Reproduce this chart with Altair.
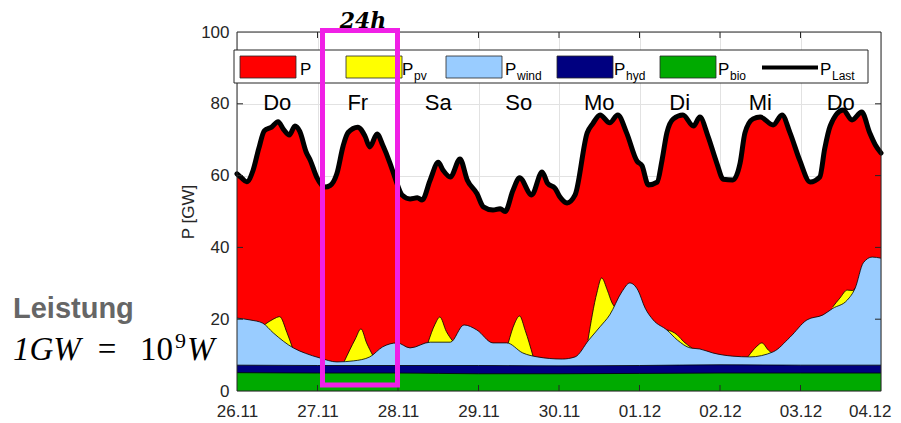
import json
import altair as alt
import pandas as pd

# ---------------- data ----------------
date_labels = ["26.11", "27.11", "28.11", "29.11", "30.11", "01.12", "02.12", "03.12", "04.12"]
weekdays = ["Do", "Fr", "Sa", "So", "Mo", "Di", "Mi", "Do"]
y_ticks = [0, 20, 40, 60, 80, 100]

# total load P_Last (GW), time in days since 26.11 00:00
last_t = [0.00, 0.06, 0.12, 0.20, 0.27, 0.34, 0.43, 0.51, 0.58, 0.65, 0.72, 0.78, 0.86, 0.91, 0.99,
          1.09, 1.16, 1.24, 1.32, 1.38, 1.50, 1.59, 1.65, 1.74, 1.81, 1.90, 1.96,
          2.05, 2.15, 2.24, 2.30, 2.40, 2.50, 2.56, 2.65, 2.77, 2.86, 2.98,
          3.06, 3.18, 3.27, 3.33, 3.43, 3.51, 3.66, 3.79, 3.86, 3.95,
          4.01, 4.10, 4.20, 4.35, 4.42, 4.51, 4.63, 4.73, 4.84, 4.97,
          5.03, 5.11, 5.22, 5.28, 5.34, 5.42, 5.54, 5.67, 5.75, 5.85, 5.96,
          6.04, 6.16, 6.25, 6.31, 6.41, 6.50, 6.66, 6.77, 6.87, 6.99,
          7.12, 7.24, 7.30, 7.37, 7.53, 7.64, 7.76, 7.86, 7.93, 8.00]
last_v = [60.5, 59.3, 58.3, 61.5, 67.5, 72.5, 73.5, 75.0, 72.8, 71.3, 73.8, 72.3, 66.5, 64.3, 59.6,
          56.8, 57.3, 60.5, 68.4, 72.0, 73.5, 71.0, 68.0, 71.6, 68.5, 63.5, 59.6,
          54.6, 53.5, 53.8, 53.2, 58.8, 63.7, 61.5, 59.6, 64.6, 58.8, 55.0,
          51.3, 50.4, 50.8, 50.0, 56.0, 59.4, 54.6, 61.0, 57.8, 56.5,
          54.1, 52.4, 54.6, 71.9, 74.5, 76.9, 74.7, 76.9, 71.9, 64.0,
          62.8, 57.4, 58.2, 64.3, 71.9, 75.8, 76.9, 73.8, 76.3, 71.0, 63.5,
          59.0, 58.8, 63.5, 71.9, 75.8, 76.3, 74.1, 76.9, 71.9, 64.3,
          58.2, 59.6, 67.4, 73.9, 78.3, 75.5, 77.7, 71.9, 68.5, 66.3]

# top of the wind layer (bio + hyd + wind, GW)
wind_t = [0.00, 0.16, 0.32, 0.45, 0.70, 0.85, 1.03, 1.24, 1.45, 1.65, 1.81, 1.99, 2.15, 2.40, 2.65,
          2.82, 2.98, 3.18, 3.35, 3.55, 3.73, 4.04, 4.20, 4.37, 4.51, 4.63, 4.78, 4.88, 4.98,
          5.07, 5.17, 5.34, 5.47, 5.63, 5.75, 5.91, 6.16, 6.37, 6.66, 6.87, 7.08, 7.28, 7.40,
          7.58, 7.68, 7.78, 7.89, 8.00]
wind_v = [20.3, 19.8, 18.9, 16.2, 12.0, 10.5, 9.2, 8.1, 8.4, 9.5, 12.3, 13.4, 12.0, 13.6, 13.6,
          18.4, 17.0, 13.4, 13.4, 10.6, 9.5, 8.9, 9.5, 14.2, 17.9, 21.2, 27.6, 30.1, 28.1,
          23.1, 19.8, 17.0, 14.2, 12.0, 11.7, 10.6, 9.7, 9.5, 10.9, 15.0, 19.8, 21.2, 23.0,
          25.3, 28.7, 35.7, 37.3, 37.0]

# top of the pv layer during daylight (bio + hyd + wind + pv, GW)
pv_seg = [0] * 5 + [1] * 5 + [2] * 5 + [3] * 5 + [4] * 6 + [5] * 5 + [6] * 5 + [7] * 5
pv_t = [0.35, 0.45, 0.53, 0.62, 0.69,
        1.33, 1.47, 1.54, 1.61, 1.69,
        2.37, 2.46, 2.52, 2.60, 2.68,
        3.37, 3.45, 3.51, 3.58, 3.68,
        4.36, 4.47, 4.53, 4.60, 4.66, 4.71,
        5.34, 5.40, 5.47, 5.55, 5.65,
        6.35, 6.46, 6.52, 6.60, 6.66,
        7.40, 7.49, 7.58, 7.65, 7.68]
pv_v = [18.6, 20.0, 20.7, 16.3, 12.0,
        8.1, 14.5, 17.3, 13.4, 9.8,
        13.3, 18.6, 20.6, 16.6, 13.9,
        13.4, 18.9, 20.9, 16.9, 9.5,
        14.2, 27.3, 31.5, 28.1, 24.5, 23.0,
        17.0, 16.6, 15.6, 13.7, 12.0,
        9.6, 12.5, 13.4, 11.4, 10.3,
        23.4, 25.9, 28.1, 28.0, 28.7]

base_t = [0, 1, 2, 3, 4, 5, 6, 7, 8]
hyd_v = [7.2, 7.1, 7.1, 7.1, 7.0, 7.1, 7.3, 7.2, 7.2]   # bio + hyd
bio_v = [5.1, 5.0, 5.0, 4.8, 4.8, 4.9, 5.0, 5.0, 5.0]   # bio

legend_main = ["P", "P", "P", "P", "P", "P"]
legend_subs = ["", "pv", "wind", "hyd", "bio", "Last"]
legend_colors = ["#ff0000", "#ffff00", "#99ccff", "#000080", "#00aa00", "#000000"]

# ---------------- layout ----------------
W, H = 644, 359
FONT = "Liberation Sans"
INK = "#262626"
GRID = "#e2e2e2"
MAGENTA = "#f020e6"

xs = alt.Scale(domain=[0, 8], nice=False, zero=False)
ys = alt.Scale(domain=[0, 100], nice=False)
xaxis = alt.Axis(values=list(range(9)), labelExpr=json.dumps(date_labels) + "[datum.value]",
                 title=None, grid=True, gridColor=GRID, ticks=False, tickSize=0, domain=False,
                 labelPadding=12, labelFontSize=17, labelFont=FONT, labelColor=INK,
                 labelAlign={"expr": "datum.value == 8 ? 'right' : 'center'"},
                 labelOffset={"expr": "datum.value == 8 ? 10 : 0"},
                 labelFlush=False, labelOverlap=False, labelBound=False)
yaxis = alt.Axis(values=y_ticks, title="P [GW]", grid=True, gridColor=GRID, ticks=False, tickSize=0,
                 domain=False, labelPadding=8, labelFontSize=17, labelFont=FONT, labelColor=INK,
                 titleFont=FONT, titleFontSize=17, titleFontWeight="normal", titleColor=INK,
                 titlePadding=3)
X = alt.X("t:Q", scale=xs, axis=xaxis)


def Y(field="v"):
    return alt.Y(field + ":Q", scale=ys, axis=yaxis, stack=None)


df_last = pd.DataFrame({"t": last_t, "v": last_v})
df_wind = pd.DataFrame({"t": wind_t, "v": wind_v})
df_pv = pd.DataFrame({"t": pv_t, "v": pv_v, "seg": pv_seg})
df_hyd = pd.DataFrame({"t": base_t, "v": hyd_v})
df_bio = pd.DataFrame({"t": base_t, "v": bio_v})
one = pd.DataFrame({"a": [0]})

edge = alt.OverlayMarkDef(color="#000000", strokeWidth=0.8, opacity=1)


def area(df, color, line=True, **kw):
    if line:
        return alt.Chart(df).mark_area(color=color, opacity=1, interpolate="monotone", line=edge, **kw)
    return alt.Chart(df).mark_area(color=color, opacity=1, interpolate="monotone", **kw)


red = area(df_last, "#ff0000", line=False).encode(x=X, y=Y())
pv = area(df_pv, "#ffff00").encode(x=X, y=Y(), detail="seg:N")
wind = area(df_wind, "#99ccff").encode(x=X, y=Y())
hyd = area(df_hyd, "#000080").encode(x=X, y=Y())
bio = area(df_bio, "#00aa00").encode(x=X, y=Y())
last_line = alt.Chart(df_last).mark_line(color="#000000", strokeWidth=5, interpolate="monotone",
                                         strokeJoin="round", strokeCap="round").encode(x=X, y=Y())

# inward ticks and frame (MATLAB style)
df_xt = pd.DataFrame({"t": base_t[1:-1]})
df_yt = pd.DataFrame({"v": y_ticks[1:-1]})
tick_b = alt.Chart(df_xt).mark_rule(color=INK).encode(x=X, y=alt.value(H), y2=alt.value(H - 6))
tick_t = alt.Chart(df_xt).mark_rule(color=INK).encode(x=X, y=alt.value(0), y2=alt.value(6))
tick_l = alt.Chart(df_yt).mark_rule(color=INK).encode(y=Y(), x=alt.value(0), x2=alt.value(6))
tick_r = alt.Chart(df_yt).mark_rule(color=INK).encode(y=Y(), x=alt.value(W - 6), x2=alt.value(W))
frame = alt.Chart(one).mark_rect(fillOpacity=0, stroke=INK, strokeWidth=1).encode(
    x=alt.value(0), x2=alt.value(W), y=alt.value(0), y2=alt.value(H))

# weekday labels at mid-day
df_days = pd.DataFrame({"t": [i + 0.5 for i in range(len(weekdays))], "d": weekdays})
days = alt.Chart(df_days).mark_text(font=FONT, fontSize=22, baseline="alphabetic", color="#000000").encode(
    x=X, y=alt.value(78), text="d:N")

# legend box
layers_legend = [alt.Chart(one).mark_rect(fill="#ffffff", stroke=INK, strokeWidth=1).encode(
    x=alt.value(-3), x2=alt.value(631), y=alt.value(18), y2=alt.value(51))]
sym_x = [3, 109, 209, 320, 423, 525]
txt_x = [63, 165, 268, 377, 481, 583]
for i, (m, s, c) in enumerate(zip(legend_main, legend_subs, legend_colors)):
    if s == "Last":
        layers_legend.append(alt.Chart(one).mark_rule(color=c, strokeWidth=4).encode(
            x=alt.value(sym_x[i]), x2=alt.value(sym_x[i] + 56), y=alt.value(35.5)))
    else:
        layers_legend.append(alt.Chart(one).mark_rect(color=c, opacity=1, stroke=INK, strokeWidth=0.8).encode(
            x=alt.value(sym_x[i]), x2=alt.value(sym_x[i] + 56), y=alt.value(24), y2=alt.value(46)))
    layers_legend.append(alt.Chart(one).mark_text(text=m, font=FONT, fontSize=17, align="left",
                                                  baseline="alphabetic", color="#000000").encode(
        x=alt.value(txt_x[i]), y=alt.value(43)))
    if s:
        layers_legend.append(alt.Chart(one).mark_text(text=s, font=FONT, fontSize=12, align="left",
                                                      baseline="alphabetic", color="#000000").encode(
            x=alt.value(txt_x[i] + 12), y=alt.value(48)))

# magenta 24h box and annotations
box24 = alt.Chart(one).mark_rect(fillOpacity=0, stroke=MAGENTA, strokeWidth=5).encode(
    x=alt.value(85.5), x2=alt.value(160.5), y=alt.value(-1.5), y2=alt.value(353))
t24 = alt.Chart(one).mark_text(text="24h", font="DejaVu Serif", fontStyle="italic", fontWeight="bold",
                               fontSize=22, align="center", baseline="alphabetic", color="#000000").encode(
    x=alt.value(126), y=alt.value(-4))
leist = alt.Chart(one).mark_text(text="Leistung", font=FONT, fontWeight="bold", fontSize=29,
                                 align="left", baseline="alphabetic", color="#666666").encode(
    x=alt.value(-224), y=alt.value(286))
SERIF = "Liberation Serif"
MS = 33
m1 = alt.Chart(one).mark_text(text="1GW", font=SERIF, fontStyle="italic", fontSize=MS, align="left",
                              baseline="alphabetic", color="#000000").encode(x=alt.value(-224), y=alt.value(328))
m2 = alt.Chart(one).mark_text(text="=", font=SERIF, fontSize=MS, align="center",
                              baseline="alphabetic", color="#000000").encode(x=alt.value(-130), y=alt.value(328))
m3 = alt.Chart(one).mark_text(text="10", font=SERIF, fontSize=MS, align="left",
                              baseline="alphabetic", color="#000000").encode(x=alt.value(-97), y=alt.value(328))
m4 = alt.Chart(one).mark_text(text="9", font=SERIF, fontSize=22, align="left",
                              baseline="alphabetic", color="#000000").encode(x=alt.value(-62), y=alt.value(316))
m5 = alt.Chart(one).mark_text(text="W", font=SERIF, fontStyle="italic", fontSize=MS, align="left",
                              baseline="alphabetic", color="#000000").encode(x=alt.value(-50), y=alt.value(328))

chart = alt.layer(
    red, pv, wind, hyd, bio, last_line,
    tick_b, tick_t, tick_l, tick_r, frame, days,
    *layers_legend,
    box24, t24, leist, m1, m2, m3, m4, m5,
).properties(
    width=W, height=H,
    padding={"left": 229, "top": 24, "right": 12, "bottom": 32},
    autosize=alt.AutoSizeParams(type="none"),
    background="#ffffff",
).configure_view(stroke=None)

chart.save("out.html", embed_options={"renderer": "svg", "actions": False})
